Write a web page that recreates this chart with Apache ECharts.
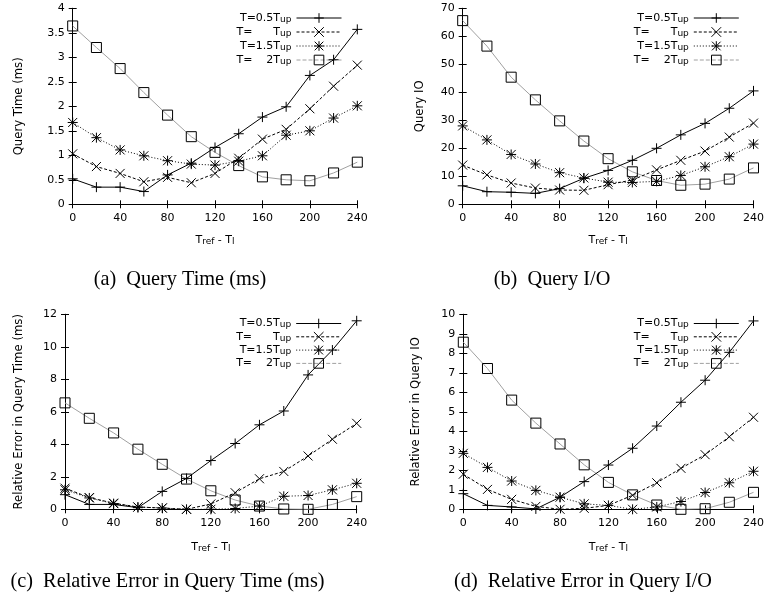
<!DOCTYPE html>
<html><head><meta charset="utf-8">
<script src="https://cdn.jsdelivr.net/npm/echarts@6/dist/echarts.min.js"></script>
<style>html,body{margin:0;padding:0;background:#fff}#c{width:767px;height:603px}</style>
</head><body><div id="c"></div>
<script>
// ---- data ----
const xValues = [0, 20, 40, 60, 80, 100, 120, 140, 160, 180, 200, 220, 240];
const seriesNames = ['T=0.5Tup', 'T=Tup', 'T=1.5Tup', 'T=2Tup'];
const legendLabels = ['T=0.5T{s|up}', 'T=      T{s|up}', 'T=1.5T{s|up}', 'T=    2T{s|up}'];

// (a) Query Time (ms)
const timeHalf    = [0.52, 0.35, 0.35, 0.26, 0.60, 0.84, 1.16, 1.44, 1.78, 1.99, 2.63, 2.95, 3.57];
const timeOne     = [1.03, 0.77, 0.63, 0.46, 0.55, 0.44, 0.63, 0.94, 1.33, 1.53, 1.95, 2.41, 2.84];
const timeOneHalf = [1.67, 1.36, 1.11, 0.99, 0.89, 0.82, 0.80, 0.88, 0.99, 1.41, 1.50, 1.76, 2.01];
const timeTwo     = [3.64, 3.20, 2.77, 2.28, 1.82, 1.38, 1.06, 0.79, 0.56, 0.50, 0.48, 0.64, 0.86];

// (b) Query IO
const ioHalf    = [6.6, 4.5, 4.3, 3.9, 5.6, 9.3, 12.1, 15.7, 20.0, 24.8, 28.9, 34.3, 40.5];
const ioOne     = [14.0, 10.5, 7.6, 5.8, 5.1, 5.0, 7.0, 8.7, 12.3, 15.7, 19.0, 24.0, 29.0];
const ioOneHalf = [28.0, 23.0, 17.8, 14.4, 11.3, 9.4, 7.9, 7.8, 8.2, 10.3, 13.4, 17.0, 21.5];
const ioTwo     = [65.6, 56.5, 45.4, 37.3, 29.8, 22.6, 16.3, 11.6, 8.5, 6.8, 7.2, 9.0, 13.0];

// (c) Relative Error in Query Time
const errTimeHalf    = [0.9, 0.3, 0.3, 0.1, 1.1, 1.9, 3.0, 4.05, 5.2, 6.05, 8.27, 9.8, 11.6];
const errTimeOne     = [1.3, 0.72, 0.38, 0.14, 0.08, 0.0, 0.33, 1.02, 1.88, 2.33, 3.28, 4.31, 5.29];
const errTimeOneHalf = [1.2, 0.7, 0.35, 0.14, 0.08, 0.0, 0.0, 0.05, 0.2, 0.8, 0.85, 1.2, 1.6];
const errTimeTwo     = [6.55, 5.6, 4.7, 3.7, 2.77, 1.86, 1.14, 0.57, 0.2, 0.02, 0.0, 0.3, 0.78];

// (d) Relative Error in Query IO
const errIoHalf    = [0.8, 0.2, 0.12, 0.02, 0.62, 1.42, 2.27, 3.13, 4.27, 5.49, 6.62, 8.05, 9.66];
const errIoOne     = [1.8, 1.02, 0.51, 0.15, 0.0, 0.05, 0.2, 0.72, 1.36, 2.1, 2.8, 3.72, 4.72];
const errIoOneHalf = [2.87, 2.15, 1.45, 0.97, 0.62, 0.28, 0.2, 0.0, 0.12, 0.4, 0.86, 1.36, 1.95];
const errIoTwo     = [8.57, 7.22, 5.6, 4.42, 3.35, 2.28, 1.38, 0.74, 0.22, 0.0, 0.03, 0.36, 0.87];

const captions = ['(a)  Query Time (ms)', '(b)  Query I/O', '(c)  Relative Error in Query Time (ms)', '(d)  Relative Error in Query I/O'];
const yNames = ['Query Time (ms)', 'Query IO', 'Relative Error in Query Time (ms)', 'Relative Error in Query IO'];
const xName = 'T{s|ref} - T{s|l}';
const yMax = [4, 70, 12, 10];
const yInterval = [0.5, 10, 2, 1];
const xMax = 240, xInterval = 40;

const panelData = [
  [timeHalf, timeOne, timeOneHalf, timeTwo],
  [ioHalf, ioOne, ioOneHalf, ioTwo],
  [errTimeHalf, errTimeOne, errTimeOneHalf, errTimeTwo],
  [errIoHalf, errIoOne, errIoOneHalf, errIoTwo]
];

// ---- layout / style ----
const FONT = 'DejaVu Sans';
const grids = [
  {left: 72.7, top: 8.3, width: 284.6, height: 196},
  {left: 462.7, top: 8.3, width: 292.3, height: 196},
  {left: 65, top: 314.3, width: 291.7, height: 195},
  {left: 463.3, top: 314.3, width: 291.7, height: 195}
];
const legendPos = [
  {right: 425, top: 12},
  {right: 27.7, top: 12},
  {right: 425.3, top: 317.5},
  {right: 27.7, top: 317.5}
];
const yNameGap = [48, 37, 40, 41.5];
const xNameGap = [29, 29, 31, 31];
const captionPos = [[180, 280], [552, 280], [167.5, 582], [583, 582]];

const PLUS = 'path://M0,5L10,5M5,0L5,10';
const CROSS = 'path://M0,0L10,10M10,0L0,10';
const STAR = 'path://M0,5L10,5M5,0L5,10M0.5,0.5L9.5,9.5M9.5,0.5L0.5,9.5';
const SQUARE = 'path://M0,0L10,0L10,10L0,10Z';
const styles = [
  {symbol: PLUS, size: 10, line: {color: '#000', width: 1, type: 'solid'}},
  {symbol: CROSS, size: 9, line: {color: '#000', width: 1, type: [3, 2]}},
  {symbol: STAR, size: 10, line: {color: '#000', width: 1, type: [1, 2]}},
  {symbol: SQUARE, size: 10, line: {color: '#a0a0a0', width: 1, type: 'solid'}}
];

const subRich = {s: {fontSize: 9, fontFamily: FONT, color: '#000', verticalAlign: 'bottom'}};
const axisLine = {show: true, lineStyle: {color: '#000', width: 1}};
const tick = {show: true, inside: true, length: 4, lineStyle: {color: '#000', width: 1}};
const label = {color: '#000', fontFamily: FONT, fontSize: 11};

const xAxes = [], yAxes = [], series = [], legends = [], graphics = [];
for (let i = 0; i < 4; i++) {
  xAxes.push({
    gridIndex: i, type: 'value', min: 0, max: xMax, interval: xInterval,
    position: 'bottom', axisLine, axisTick: tick, splitLine: {show: false},
    axisLabel: Object.assign({margin: 8}, label),
    name: xName, nameLocation: 'middle', nameGap: xNameGap[i],
    nameTextStyle: {color: '#000', fontFamily: FONT, fontSize: 11, lineHeight: 13, rich: subRich}
  });
  yAxes.push({
    gridIndex: i, type: 'value', min: 0, max: yMax[i], interval: yInterval[i],
    position: 'left', axisLine, axisTick: tick, splitLine: {show: false},
    axisLabel: Object.assign({margin: 8}, label),
    name: yNames[i], nameLocation: 'middle', nameGap: yNameGap[i],
    nameTextStyle: {color: '#000', fontFamily: FONT, fontSize: 11.7}
  });
  legends.push(Object.assign({
    data: seriesNames.map((n, k) => k === 3 ? {name: n, lineStyle: {type: [4, 2], width: 1}} : {name: n}),
    orient: 'vertical', align: 'right', padding: 0,
    itemGap: i < 2 ? 2 : 1.3, itemWidth: 45, itemHeight: 12, selectedMode: false,
    lineStyle: {width: 1}, itemStyle: {borderWidth: 1},
    formatter: n => legendLabels[seriesNames.indexOf(n)],
    textStyle: {color: '#000', fontFamily: FONT, fontSize: 11, lineHeight: 12, rich: subRich}
  }, legendPos[i]));
  for (let k = 0; k < 4; k++) {
    const st = styles[k];
    series.push({
      type: 'line', name: seriesNames[k], xAxisIndex: i, yAxisIndex: i,
      data: xValues.map((x, j) => [x, panelData[i][k][j]]),
      symbol: st.symbol, symbolSize: st.size, showSymbol: true,
      lineStyle: st.line,
      itemStyle: {color: 'rgba(0,0,0,0)', borderColor: '#000', borderWidth: 1},
      emphasis: {disabled: true}, z: 10 - k
    });
  }
  graphics.push({
    type: 'text', x: captionPos[i][0], y: captionPos[i][1],
    style: {text: captions[i], font: '20.3px "Liberation Serif"', fill: '#000', align: 'center', verticalAlign: 'middle'}
  });
}
// mirrored axes (top / right) with inward ticks
for (let i = 0; i < 4; i++) {
  xAxes.push({
    gridIndex: i, type: 'value', min: 0, max: xMax, interval: xInterval, position: 'top',
    axisLine, axisTick: tick, axisLabel: {show: false}, splitLine: {show: false}
  });
  yAxes.push({
    gridIndex: i, type: 'value', min: 0, max: yMax[i], interval: yInterval[i], position: 'right',
    axisLine, axisTick: tick, axisLabel: {show: false}, splitLine: {show: false}
  });
}

const chart = echarts.init(document.getElementById('c'), null, {renderer: 'canvas'});
chart.setOption({
  animation: false,
  backgroundColor: '#fff',
  grid: grids,
  xAxis: xAxes,
  yAxis: yAxes,
  legend: legends,
  series: series,
  graphic: graphics
});
</script>
</body></html>
